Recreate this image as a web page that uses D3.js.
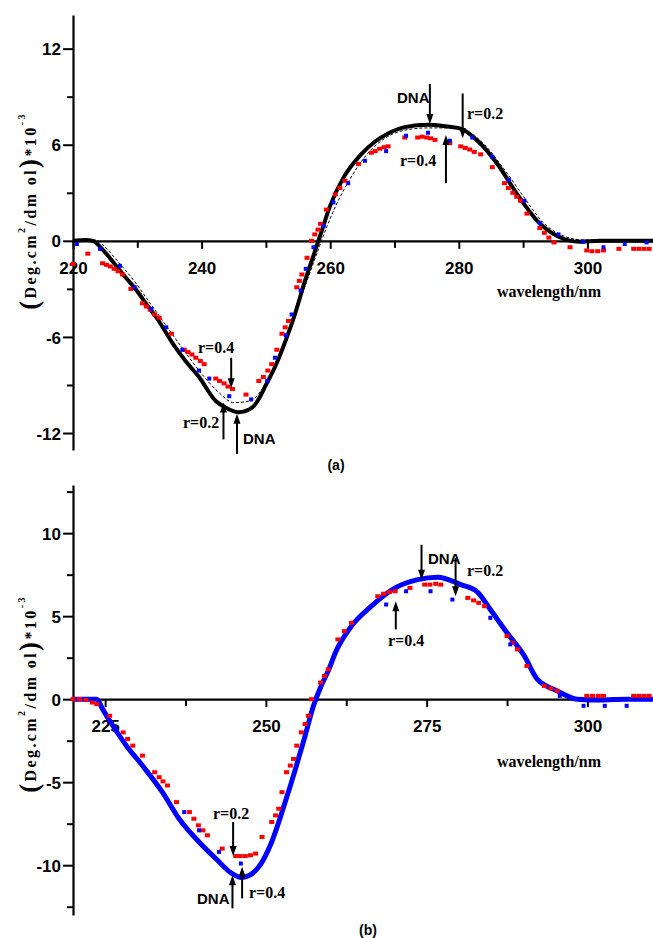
<!DOCTYPE html>
<html>
  <head>
    <meta charset="utf-8">
    <title>CD spectra</title>
    <script src="https://d3js.org/d3.v7.min.js"></script>
    <style>
      body { margin: 0; background: #fff; }
      .tick text { font-family: "Liberation Sans", Arial, sans-serif; font-weight: bold; font-size: 17px; }
      .serif { font-family: "Liberation Serif", "Times New Roman", serif; font-weight: bold; }
      .sans { font-family: "Liberation Sans", Arial, sans-serif; font-weight: bold; }
    </style>
  </head>
  <body>
    <script>
      // ---- panel (a) ----
      var dnaA = [[220,0],[222,0.05],[223.1,0],[224.5,-0.5],[225.7,-1.06],[227.8,-2.1],[229.9,-3.1],[231.5,-4],
        [233,-4.8],[235.5,-6.4],[237.5,-7.5],[239.6,-8.5],[242.2,-10],[243.7,-10.4],[245.8,-10.7],[247.9,-10.4],
        [249,-9.8],[250,-9.0],[251.5,-7.8],[253,-6.3],[254.5,-4.6],[256,-2.6],[257.5,-0.8],[258.5,0.4],[260,2.2],
        [262,3.9],[264.8,5.4],[267,6.2],[269,6.7],[271.6,7.1],[275.2,7.25],[278,7.15],[280.3,7.0],[282.9,6.25],
        [286,4.8],[289.1,2.9],[292.2,1.25],[295.3,0.3],[298.8,-0.06],[302,0],[306,0],[310.5,0]];

      var r02A = [[220,0],[223.5,0.05],[225,-0.4],[227,-1.3],[229.5,-2.5],[232,-3.9],[234.5,-5.3],[237,-6.7],
        [240,-8.3],[242.5,-9.4],[245,-10.1],[247.5,-10.0],[249.5,-9.2],[251,-8.1],[252.8,-6.5],[254.5,-4.6],
        [256.3,-2.6],[258,-0.7],[259.5,0.9],[261,2.3],[263,3.8],[265.5,5.3],[268.5,6.4],[271.5,6.9],[275,7.05],
        [279,7.05],[281.5,6.8],[284,6.0],[287,4.5],[290,2.8],[293,1.2],[296,0.35],[299.5,0.05],[305,0.05],[310.5,0.05]];

      var r04A = [[220,-1.44],[222.3,-0.8],[224.6,-1.4],[225.2,-1.5],[225.8,-1.6],[226.4,-1.75],[227,-1.9],[227.7,-2.1],
        [229,-3.0],[230.8,-3.9],[231.4,-4.1],[232,-4.3],[232.7,-4.6],[233.4,-4.8],[235.3,-5.8],[237.3,-6.8],
        [237.9,-6.95],[238.5,-7.1],[239.1,-7.3],[239.8,-7.5],[240.4,-7.7],[242.2,-8.6],[242.8,-8.75],[243.5,-8.9],
        [244.1,-9.1],[244.8,-9.25],[246.9,-9.6],[248.9,-8.75],[249.6,-8.5],[250.3,-8.1],[250.9,-7.7],[251.7,-6.8],
        [252.5,-5.8],[253,-5.4],[253.5,-5.0],[254.8,-2.9],[255.2,-2.5],[255.6,-2.1],[256.4,-1.06],[257.1,0],
        [257.6,0.4],[258.1,0.7],[258.5,1.06],[259.4,1.95],[260.8,2.9],[261.5,3.3],[262.3,3.75],[264.4,4.8],
        [266.4,5.5],[267,5.6],[267.7,5.75],[268.4,5.85],[269,5.9],[271.6,6.45],[273.6,6.45],[274.3,6.5],[275,6.45],
        [275.6,6.4],[276.3,6.3],[278.6,6.1],[280.3,5.9],[281,5.8],[281.7,5.7],[282.4,5.55],[283.4,5.4],[285.2,4.6],
        [287.1,3.6],[287.7,3.3],[288.4,3.0],[289,2.75],[289.6,2.5],[290.6,1.7],[292.6,0.8],[293.3,0.5],[294,0.2],
        [294.8,-0.1],[297.3,-0.4],[299.9,-0.6],[300.7,-0.65],[301.6,-0.65],[302.5,-0.6],[304.9,-0.5],[307.2,-0.5],
        [308,-0.5],[308.8,-0.5],[309.6,-0.5]];

      var blueA = [[220.6,-0.2],[224.2,-0.5],[227.3,-1.56],[229.6,-2.9],[232.2,-4.25],[234.5,-5.4],[237,-6.8],
        [239.6,-8.1],[241.2,-8.6],[244.3,-9.7],[247.7,-9.9],[250.2,-8.75],[251.4,-7.3],[253.1,-5.9],[254,-4.6],
        [255.4,-3.1],[256.2,-1.75],[257.4,-0.4],[259,0.94],[260.5,2.4],[262.8,3.6],[265.4,5],[268.7,5.6],
        [271.8,6.56],[275.2,6.75],[278.6,6.25],[282.1,6.45],[285.2,5.25],[287.8,3.8],[290.2,2.5],[292.6,1.1],
        [295.5,0.4],[299.3,-0.06],[302.5,-0.4],[305.8,-0.2],[309.2,-0.1]];

      // ---- panel (b) ----
      var dnaB = [[220,0],[222,0],[223.7,0],[224.6,-0.6],[226.2,-1.6],[228.3,-2.8],[230.8,-4.0],[233.9,-5.6],
        [236.5,-7.2],[239.6,-8.6],[242.2,-9.6],[244.7,-10.5],[246.2,-10.75],[247.5,-10.6],[248.9,-10.1],
        [250.9,-8.6],[253,-6.2],[254.6,-4.2],[256.1,-2.2],[257.4,-0.4],[258.6,0.8],[259.8,1.8],[260.8,2.8],
        [263.3,4.4],[266.4,5.6],[270.1,6.7],[273.6,7.2],[276.7,7.35],[280.3,6.9],[282.9,6.45],[284.9,5.4],
        [287.5,4.0],[290.2,2.6],[292.2,1.2],[295.3,0.5],[298.4,0],[302,-0.05],[306,0],[310.5,0]];

      var r02B = [[220,0],[221,0],[222,-0.05],[223,-0.2],[223.7,-0.3],[225.7,-1],[227.8,-2],[228.5,-2.4],[229.3,-2.8],
        [230.8,-3.4],[232.7,-4.4],[233.4,-4.7],[234,-4.95],[234.7,-5.2],[236.1,-6.2],[238.1,-6.8],[238.8,-7.2],
        [239.5,-7.6],[240.2,-7.9],[240.9,-8.2],[243.2,-9.0],[245.3,-9.45],[246,-9.45],[246.8,-9.45],[247.6,-9.4],
        [248.4,-9.3],[249.4,-8.3],[250.9,-7.4],[251.5,-7.0],[252,-6.6],[252.5,-5.6],[253.2,-4.4],[253.8,-4.0],
        [254.3,-3.6],[254.8,-2.8],[255.5,-2.0],[256.1,-1.5],[256.6,-1.0],[257.1,0],[258.5,1],[259.1,1.4],[259.7,1.8],
        [261.2,3.6],[262.2,4.1],[263.3,4.6],[267.4,6.2],[268.3,6.35],[269.2,6.45],[270.1,6.5],[272.4,6.7],
        [274.7,6.9],[275.5,6.9],[276.4,6.95],[277.2,6.9],[281.4,6.1],[282.3,5.95],[283.1,5.8],[284,5.6],
        [287.5,3.8],[288.3,3.4],[289.1,3.0],[290.6,2.0],[293.3,0.8],[294.3,0.65],[295.3,0.5],[299.9,0.2],
        [300.8,0.2],[301.7,0.2],[302.5,0.2],[307.2,0.2],[308,0.2],[308.8,0.2],[309.6,0.2]];

      var r04B = [[237.3,-6.8],[239.6,-7.9],[242.7,-9.2],[246.1,-9.9],[268.7,5.7],[271.8,6.5],[275.6,6.5],
        [279,6.0],[284.9,4.9],[288,3.3],[295.7,0.2],[299.4,-0.4],[302.7,-0.4],[306.1,-0.4]];

      var xMajorA = [220, 240, 260, 280, 300], xMinorA = [230, 250, 270, 290];
      var yMajorA = [-12, -6, 0, 6, 12],       yMinorA = [-9, -3, 3, 9];
      var xMajorB = [225, 250, 275, 300],      xMinorB = [237.5, 262.5, 287.5];
      var yMajorB = [-10, -5, 0, 5, 10],       yMinorB = [-12.5, -7.5, -2.5, 2.5, 7.5, 12.5];

      // annotation arrows: [label, font, wavelength, tip value, tail value, dir, text x, text y]
      var notesA = [
        ["r=0.4", "serif", 244.6, -9.2, -7.3, "down", 198, 353],
        ["r=0.2", "serif", 243.4, -10.1, -12.4, "up", 183, 428],
        ["DNA", "sans", 245.5, -10.8, -13.3, "up", 243, 444],
        ["DNA", "sans", 275.5, 7.3, 9.8, "down", 397, 103],
        ["r=0.2", "serif", 280.6, 6.4, 9.2, "down", 467, 119],
        ["r=0.4", "serif", 278.0, 6.6, 3.6, "up", 400, 166]
      ];
      var notesB = [
        ["r=0.2", "serif", 244.9, -9.45, -7.4, "down", 213, 819],
        ["DNA", "sans", 244.8, -10.6, -12.6, "up", 197, 904],
        ["r=0.4", "serif", 246.3, -10.1, -12.0, "up", 249, 898],
        ["DNA", "sans", 274.2, 7.2, 9.3, "down", 428, 564],
        ["r=0.2", "serif", 279.5, 6.2, 8.5, "down", 467, 576],
        ["r=0.4", "serif", 270.2, 5.9, 4.2, "up", 388, 646]
      ];

      var svg = d3.select("body").append("svg")
        .attr("width", 653)
        .attr("height", 938);

      var x = d3.scaleLinear().domain([220, 310.2]).range([73, 653]);

      function panel(cfg) {
        var y = cfg.y;
        var g = svg.append("g");

        // y axis
        g.append("g").attr("transform", "translate(73,0)")
          .call(d3.axisLeft(y).tickValues(cfg.yMinor).tickSize(6).tickFormat(""))
          .call(function (a) { a.select(".domain").remove(); });
        var ya = g.append("g").attr("transform", "translate(73,0)")
          .call(d3.axisLeft(y).tickValues(cfg.yMajor).tickSize(10).tickSizeOuter(0).tickPadding(2)
            .tickFormat(function (d) { return String(d); }));

        // x axis at zero
        var y0 = y(0);
        g.append("g").attr("transform", "translate(0," + y0 + ")")
          .call(d3.axisBottom(x).tickValues(cfg.xMinor).tickSize(7).tickFormat(""))
          .call(function (a) { a.select(".domain").remove(); });
        g.append("g").attr("transform", "translate(0," + y0 + ")")
          .call(d3.axisBottom(x).tickValues(cfg.xMajor).tickSize(8).tickSizeOuter(0).tickPadding(13));

        g.selectAll(".domain").attr("stroke-width", 2.2);
        g.selectAll(".tick line").attr("stroke-width", 2);
        ya.selectAll(".tick text").attr("dy", "0.36em");

        var line = d3.line()
          .x(function (d) { return x(d[0]); })
          .y(function (d) { return y(d[1]); })
          .curve(d3.curveMonotoneX);

        cfg.lines.forEach(function (s) {
          g.append("path").datum(s.data)
            .attr("fill", "none")
            .attr("stroke", s.color)
            .attr("stroke-width", s.width)
            .attr("stroke-dasharray", s.dash || null)
            .attr("d", line);
        });

        cfg.marks.forEach(function (s) {
          g.append("g").selectAll("rect")
            .data(s.data)
            .enter().append("rect")
              .attr("x", function (d) { return x(d[0]) - s.w / 2; })
              .attr("y", function (d) { return y(d[1]) - s.h / 2; })
              .attr("width", s.w)
              .attr("height", s.h)
              .attr("fill", s.color);
        });

        // arrows and labels
        cfg.notes.forEach(function (n) {
          var ax = x(n[2]), tip = y(n[3]), tail = y(n[4]);
          var s = n[5] === "down" ? -1 : 1;
          g.append("line")
            .attr("x1", ax).attr("x2", ax)
            .attr("y1", tail).attr("y2", tip + s * 8)
            .attr("stroke", "#000").attr("stroke-width", 2);
          g.append("path")
            .attr("d", "M" + ax + "," + tip + "L" + (ax - 3.5) + "," + (tip + s * 10) +
                       "L" + (ax + 3.5) + "," + (tip + s * 10) + "Z")
            .attr("fill", "#000");
          g.append("text")
            .attr("class", n[1])
            .attr("x", n[6]).attr("y", n[7])
            .attr("font-size", n[1] === "sans" ? 15 : 16)
            .text(n[0]);
        });

        // axis titles
        g.append("text")
          .attr("class", "serif")
          .attr("x", 497).attr("y", cfg.xTitleY)
          .attr("font-size", 16)
          .text("wavelength/nm");

        var yt = g.append("text")
          .attr("class", "serif")
          .attr("font-size", 16)
          .attr("letter-spacing", 2.4)
          .attr("text-anchor", "middle")
          .attr("transform", "translate(36," + cfg.yTitleC + ") rotate(-90)");
        yt.append("tspan").attr("font-size", 27).attr("dy", 2).text("(");
        yt.append("tspan").attr("dy", -2).text("Deg.cm");
        yt.append("tspan").attr("font-size", 10).attr("dy", -11).text("2");
        yt.append("tspan").attr("dy", 11).text("/dm ol");
        yt.append("tspan").attr("font-size", 27).attr("dy", 2).text(")");
        yt.append("tspan").attr("dy", -2).text("*10");
        yt.append("tspan").attr("font-size", 10).attr("dy", -11).text("-3");

        g.append("text")
          .attr("class", "sans")
          .attr("x", cfg.tag[0]).attr("y", cfg.tag[1])
          .attr("font-size", 14)
          .attr("text-anchor", "middle")
          .text(cfg.tag[2]);
      }

      panel({
        y: d3.scaleLinear().domain([-13.06, 14.1]).range([450, 15]),
        xMajor: xMajorA, xMinor: xMinorA, yMajor: yMajorA, yMinor: yMinorA,
        lines: [
          { data: r02A, color: "#000", width: 1, dash: "3,2" },
          { data: dnaA, color: "#000", width: 4 }
        ],
        marks: [
          { data: r04A, color: "#ff0000", w: 5, h: 4 },
          { data: blueA, color: "#0000ff", w: 4, h: 4 }
        ],
        notes: notesA,
        xTitleY: 297, yTitleC: 211,
        tag: [336, 470, "(a)"]
      });

      panel({
        y: d3.scaleLinear().domain([-13.0, 12.9]).range([915, 485]),
        xMajor: xMajorB, xMinor: xMinorB, yMajor: yMajorB, yMinor: yMinorB,
        lines: [
          { data: dnaB, color: "#0000ff", width: 5 }
        ],
        marks: [
          { data: r02B, color: "#ff0000", w: 5, h: 4 },
          { data: r04B, color: "#0000ff", w: 4, h: 4 }
        ],
        notes: notesB,
        xTitleY: 767, yTitleC: 694,
        tag: [368, 935, "(b)"]
      });
    </script>
  </body>
</html>
